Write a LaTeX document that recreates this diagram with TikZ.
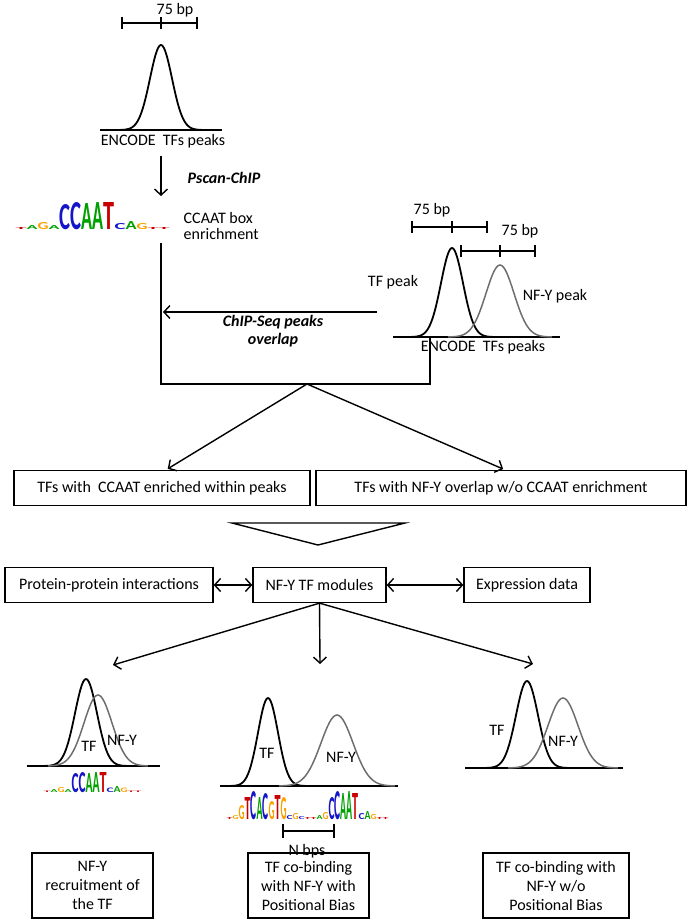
\documentclass[tikz,border=0pt]{standalone}
\usepackage{fontspec}
\usepackage{graphicx}
\setmainfont{Carlito}
\usetikzlibrary{arrows.meta}

\definecolor{logoA}{RGB}{0,160,0}
\definecolor{logoC}{RGB}{20,20,200}
\definecolor{logoG}{RGB}{250,160,0}
\definecolor{logoT}{RGB}{200,0,0}
\definecolor{nfygray}{RGB}{110,110,110}

% one column of a sequence logo: letter, height
\newlength{\ntw}
\newcommand{\nt}[2]{\textcolor{logo#1}{\resizebox{\ntw}{#2}{\bfseries #1}}}

\begin{document}
\begin{tikzpicture}[x=1pt, y=-1pt, font=\fontsize{16}{19}\selectfont,
    >={Straight Barb[length=6pt,width=13pt]}, line width=1.4pt,
    box/.style={rectangle, draw, line width=1.3pt, minimum height=35pt, inner sep=2pt},
    tfcurve/.style={line width=1.8pt},
    nfycurve/.style={line width=1.5pt, draw=nfygray},
    lbl/.style={inner sep=1pt},
    method/.style={inner sep=1pt, font=\fontsize{16}{18}\selectfont\bfseries\itshape}]
    \useasboundingbox (0,0) rectangle (692,923);

    % ENCODE peak, top
    \node [lbl] (bp1) at (175,10) {75 bp};
    \draw (122,23) -- (197,23);
    \foreach \x in {122,161,197} \draw (\x,17) -- (\x,29);
    \draw (100,130) -- (222,130);
    \draw [tfcurve] plot [domain=-42:42, samples=61] ({161+\x}, {130-85*exp(-0.5*(\x/11)^2)});
    \node [lbl] (enc1) at (163,141) {ENCODE\ \ TFs peaks};

    \coordinate (ps1) at (161,156);
    \coordinate (ps2) at (161,196);
    \draw [->] (ps1) -- (ps2);
    \node [method, anchor=west] (pscan) at (186,178) {Pscan-ChIP};

    \node [anchor=base west, inner sep=0pt] (logo1) at (15,229) {\setlength{\ntw}{11pt}%
        \nt{T}{2pt}\nt{A}{4pt}\nt{G}{7pt}\nt{A}{4pt}%
        \nt{C}{25pt}\nt{C}{27pt}\nt{A}{26pt}\nt{A}{27pt}\nt{T}{27pt}%
        \nt{C}{6pt}\nt{A}{8pt}\nt{G}{6pt}\nt{T}{2pt}\nt{T}{2pt}};
    \node [lbl, anchor=west, align=left, font=\fontsize{16}{16}\selectfont] (ccaat) at (182,226) {CCAAT box\\enrichment};

    % overlapping peaks, right
    \node [lbl] (bp2) at (432,210) {75 bp};
    \draw (412,227) -- (487,227);
    \foreach \x in {412,452,487} \draw (\x,221) -- (\x,233);
    \node [lbl] (bp3) at (520,231) {75 bp};
    \draw (461,251) -- (535,251);
    \foreach \x in {461,500,535} \draw (\x,245) -- (\x,257);
    \draw (393,337) -- (560,337);
    \draw [tfcurve] plot [domain=-42:42, samples=61] ({452+\x}, {337-89*exp(-0.5*(\x/11)^2)});
    \draw [nfycurve] plot [domain=-52:52, samples=61] ({500+\x}, {337-72*exp(-0.5*(\x/14)^2)});
    \node [lbl] (tfpeak) at (393,282) {TF peak};
    \node [lbl] (nfypeak) at (555,296) {NF-Y peak};
    \node [lbl] (enc2) at (483,347) {ENCODE\ \ TFs peaks};

    % merge
    \coordinate (v1) at (161,243);
    \coordinate (corner) at (161,384);
    \coordinate (split) at (307,384);
    \coordinate (v2) at (430,384);
    \coordinate (v2top) at (430,337);
    \draw (v1) -- (corner) -- (v2) -- (v2top);
    \coordinate (ov1) at (377,312);
    \coordinate (ov2) at (163,312);
    \draw [->] (ov1) -- (ov2);
    \node [method, align=center] (chip) at (273,331) {ChIP-Seq peaks\\overlap};

    \node [box, minimum width=296pt] (withccaat) at (162,488) {TFs with\ \ CCAAT enriched within peaks};
    \node [box, minimum width=370pt] (noccaat) at (501,488) {TFs with NF-Y overlap w/o CCAAT enrichment};
    \draw [->, shorten >=2pt] (split) -- ([xshift=4pt]withccaat.north);
    \draw [->, shorten >=2pt] (split) -- ([xshift=4pt]noccaat.north);

    \draw (232,523) -- (405,523) -- (318,545) -- cycle;

    \node [box, minimum width=208pt] (ppi) at (109,585) {Protein-protein interactions};
    \node [box, minimum width=133pt] (modules) at (319.5,585) {NF-Y TF modules};
    \node [box, minimum width=126pt] (expr) at (527,585) {Expression data};
    \draw [<->] (ppi) -- (modules);
    \draw [<->] (modules) -- (expr);

    \coordinate (t1) at (113,665);
    \coordinate (t2) at (320,664);
    \coordinate (t3) at (533,664);
    \draw [->] (modules.south) -- (t1);
    \draw [->] (modules.south) -- (t2);
    \draw [->] (modules.south) -- (t3);

    % recruitment
    \draw (27,766) -- (160,766);
    \draw [tfcurve] plot [domain=-42:42, samples=61] ({86+\x}, {766-87*exp(-0.5*(\x/11)^2)});
    \draw [nfycurve] plot [domain=-50:50, samples=61] ({98+\x}, {766-71*exp(-0.5*(\x/14)^2)});
    \node [lbl] (tf1) at (89,746) {TF};
    \node [lbl] (nfy1) at (122,740) {NF-Y};
    \node [anchor=base west, inner sep=0pt] (logo2) at (43,792) {\setlength{\ntw}{7pt}%
        \nt{T}{1.5pt}\nt{A}{3pt}\nt{G}{5pt}\nt{A}{3pt}%
        \nt{C}{19pt}\nt{C}{20pt}\nt{A}{19pt}\nt{A}{20pt}\nt{T}{20pt}%
        \nt{C}{4.5pt}\nt{A}{6pt}\nt{G}{4.5pt}\nt{T}{1.5pt}\nt{T}{1.5pt}};

    % positional bias
    \draw (220,786) -- (398,786);
    \draw [tfcurve] plot [domain=-40:40, samples=61] ({268+\x}, {786-88*exp(-0.5*(\x/10)^2)});
    \draw [nfycurve] plot [domain=-58:58, samples=61] ({337+\x}, {786-71*exp(-0.5*(\x/16)^2)});
    \node [lbl] (tf2) at (267,753) {TF};
    \node [lbl] (nfy2) at (341,757) {NF-Y};
    \node [anchor=base west, inner sep=0pt] (logo3) at (226,819) {\setlength{\ntw}{6pt}%
        \nt{T}{2pt}\nt{G}{4pt}%
        \nt{G}{14pt}\nt{T}{22pt}\nt{C}{28pt}\nt{A}{22pt}\nt{C}{26pt}\nt{G}{18pt}\nt{T}{24pt}\nt{G}{22pt}%
        \nt{C}{4pt}\nt{G}{6pt}\nt{C}{3pt}\nt{T}{2pt}\nt{T}{2pt}\nt{A}{4pt}\nt{G}{7pt}%
        \nt{C}{22pt}\nt{C}{28pt}\nt{A}{26pt}\nt{A}{28pt}\nt{T}{26pt}%
        \nt{C}{6pt}\nt{A}{8pt}\nt{G}{5pt}\nt{T}{2pt}\nt{T}{2pt}};
    \draw (283,831) -- (334,831);
    \foreach \x in {283,334} \draw (\x,824) -- (\x,838);
    \node [lbl] (nbps) at (307,851) {N bps};

    % no positional bias
    \draw (465,768) -- (623,768);
    \draw [tfcurve] plot [domain=-42:42, samples=61] ({527+\x}, {768-87*exp(-0.5*(\x/11)^2)});
    \draw [nfycurve] plot [domain=-55:55, samples=61] ({563+\x}, {768-70*exp(-0.5*(\x/15)^2)});
    \node [lbl] (tf3) at (497,730) {TF};
    \node [lbl] (nfy3) at (563,741) {NF-Y};

    \node [box, minimum width=121pt, minimum height=65pt, align=center] (recruit) at (92.5,885.5) {NF-Y\\recruitment of\\the TF};
    \node [box, minimum width=121pt, minimum height=65pt, align=center] (biased) at (308.5,885.5) {TF co-binding\\with NF-Y with\\Positional Bias};
    \node [box, minimum width=146pt, minimum height=65pt, align=center] (unbiased) at (556,885.5) {TF co-binding with\\NF-Y w/o\\Positional Bias};
\end{tikzpicture}
\end{document}
